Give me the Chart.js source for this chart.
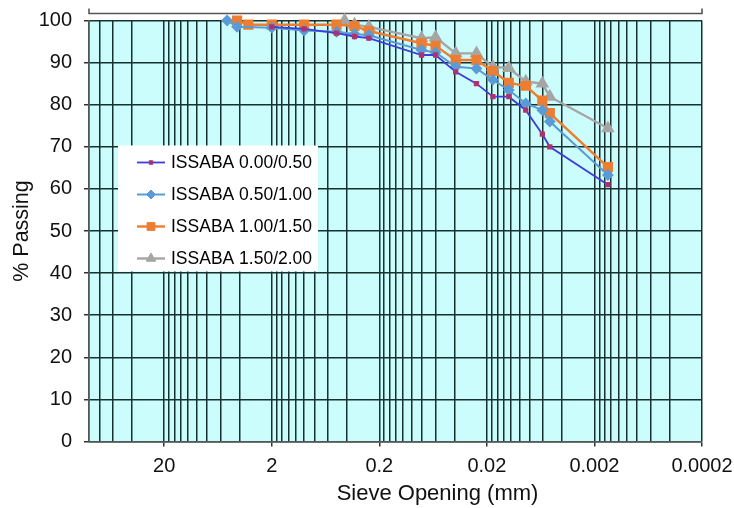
<!DOCTYPE html>
<html>
<head>
<meta charset="utf-8">
<script src="https://cdn.jsdelivr.net/npm/chart.js@4.4.0/dist/chart.umd.min.js"></script>
<style>
  html, body { margin: 0; padding: 0; background: #fff; }
</style>
</head>
<body>
<canvas id="chart" width="734" height="508"></canvas>
<script>
// sieve opening (mm) and % passing
const sizes00 = [2.0, 1.0, 0.5, 0.34, 0.25, 0.081, 0.06, 0.039, 0.025, 0.0176, 0.0125, 0.0087, 0.0061, 0.0052, 0.0015];
const pass00  = [98.5, 98, 97, 96.2, 95.8, 91.8, 91.8, 87.8, 85, 81.9, 81.9, 78.7, 73, 70, 61];

const sizes05 = [5.2, 4.2, 2.0, 1.0, 0.5, 0.34, 0.25, 0.081, 0.06, 0.039, 0.025, 0.0176, 0.0125, 0.0087, 0.0061, 0.0052, 0.0015];
const pass05  = [100, 98.5, 98.3, 97.6, 97.3, 96.8, 96.5, 93, 92.4, 89, 88.6, 85.9, 83.5, 80.3, 78.7, 76, 63.3];

const sizes10 = [4.2, 3.3, 2.0, 1.0, 0.5, 0.34, 0.25, 0.081, 0.06, 0.039, 0.025, 0.0176, 0.0125, 0.0087, 0.0061, 0.0052, 0.0015];
const pass10  = [100, 99, 99, 99, 99, 98.7, 97.5, 94.6, 94, 90.6, 90.6, 88, 85.2, 84.5, 81, 78, 65.2];

const sizes15 = [0.42, 0.34, 0.25, 0.081, 0.06, 0.039, 0.025, 0.0176, 0.0125, 0.0087, 0.0061, 0.0052, 0.0015];
const pass15  = [100, 99, 98.5, 95.8, 96, 92.2, 92.2, 89, 88.7, 85.5, 85, 81.9, 74.4];

const seriesNames = ['ISSABA 0.00/0.50', 'ISSABA 0.50/1.00', 'ISSABA 1.00/1.50', 'ISSABA 1.50/2.00'];
const xTickLabels = ['20', '2', '0.2', '0.02', '0.002', '0.0002'];
const gridSteps = [2, 4, 6, 8, 10, 12, 14, 16, 18];

const FONT = '"Liberation Sans", Arial, sans-serif';

function pts(xs, ys) {
    return xs.map((x, i) => ({ x: x, y: ys[i] }));
}

function isLabelled(v) {
    return xTickLabels.find(l => Math.abs(Number(l) - v) / v < 1e-6);
}

// cyan plot background, bracket line above the plot, x title (sits right of centre in the original)
const framePlugin = {
    id: 'frame',
    beforeDraw(chart) {
        const a = chart.chartArea, ctx = chart.ctx;
        ctx.save();
        ctx.fillStyle = '#ccfdfd';
        ctx.fillRect(a.left, a.top, a.right - a.left, a.bottom - a.top);
        ctx.strokeStyle = '#555';
        ctx.lineWidth = 1.6;
        ctx.beginPath();
        ctx.moveTo(a.left, a.top - 12);
        ctx.lineTo(a.left, a.top - 7);
        ctx.lineTo(a.right, a.top - 7);
        ctx.lineTo(a.right, a.top - 12);
        ctx.stroke();
        ctx.fillStyle = '#111';
        ctx.font = '22px ' + FONT;
        ctx.textAlign = 'center';
        ctx.textBaseline = 'middle';
        ctx.fillText('Sieve Opening (mm)', (a.left + a.right) / 2 + 42, a.bottom + 52);
        ctx.restore();
    }
};

// legend box drawn inside the plot
const boxLegend = {
    id: 'boxLegend',
    afterDatasetsDraw(chart) {
        const a = chart.chartArea, ctx = chart.ctx;
        const left = a.left + 29, top = a.top + 125;
        ctx.save();
        ctx.fillStyle = '#fff';
        ctx.fillRect(left, top, 200, 126);
        chart.data.datasets.forEach((ds, i) => {
            const y = top + 17 + i * 32;
            ctx.strokeStyle = ds.borderColor;
            ctx.lineWidth = ds.borderWidth;
            ctx.beginPath();
            ctx.moveTo(left + 19, y);
            ctx.lineTo(left + 47, y);
            ctx.stroke();
            ctx.fillStyle = ds.pointBackgroundColor;
            ctx.strokeStyle = ds.pointBorderColor;
            ctx.lineWidth = 1;
            Chart.helpers.drawPoint(ctx, {
                pointStyle: ds.pointStyle, radius: ds.pointRadius, rotation: 0, borderWidth: 1
            }, left + 33, y);
            ctx.fillStyle = '#000';
            ctx.font = '17.5px ' + FONT;
            ctx.textBaseline = 'middle';
            ctx.fillText(ds.label, left + 53, y + 1);
        });
        ctx.restore();
    }
};

new Chart(document.getElementById('chart'), {
    type: 'scatter',
    data: {
        datasets: [
            {
                label: seriesNames[0], data: pts(sizes00, pass00), showLine: true, clip: false,
                borderColor: '#3d3ddc', borderWidth: 1.8,
                pointStyle: 'rect', pointRadius: 2.5,
                pointBackgroundColor: '#7b3f8e', pointBorderColor: '#b8306a'
            },
            {
                label: seriesNames[1], data: pts(sizes05, pass05), showLine: true, clip: false,
                borderColor: '#5b9bd5', borderWidth: 2,
                pointStyle: 'rectRot', pointRadius: 4.5,
                pointBackgroundColor: '#5b9bd5', pointBorderColor: '#5b9bd5'
            },
            {
                label: seriesNames[2], data: pts(sizes10, pass10), showLine: true, clip: false,
                borderColor: '#ed7d31', borderWidth: 2.4,
                pointStyle: 'rect', pointRadius: 5.5,
                pointBackgroundColor: '#ed7d31', pointBorderColor: '#ed7d31'
            },
            {
                label: seriesNames[3], data: pts(sizes15, pass15), showLine: true, clip: false,
                borderColor: '#a5a5a5', borderWidth: 2.4,
                pointStyle: 'triangle', pointRadius: 5.5,
                pointBackgroundColor: '#a5a5a5', pointBorderColor: '#a5a5a5'
            }
        ]
    },
    options: {
        responsive: false,
        animation: false,
        devicePixelRatio: 1,
        layout: { padding: { top: 20.5, right: 32, bottom: 0, left: 0 } },
        plugins: { legend: { display: false }, tooltip: { enabled: false } },
        scales: {
            x: {
                type: 'logarithmic',
                reverse: true,
                min: 0.0002,
                max: 100,
                afterBuildTicks(scale) {
                    const vals = [];
                    for (let e = -4; e <= 1; e++) {
                        gridSteps.forEach(s => {
                            const v = +(s * Math.pow(10, e)).toPrecision(6);
                            if (v <= 100) vals.push(v);
                        });
                    }
                    scale.ticks = vals.map(v => ({ value: v }));
                },
                afterFit(scale) { scale.height = 66.5; },
                ticks: {
                    autoSkip: false,
                    maxRotation: 0,
                    padding: 8,
                    color: '#111',
                    font: { family: FONT, size: 20 },
                    callback: v => isLabelled(v) || ''
                },
                grid: {
                    color: '#173030',
                    lineWidth: 1.5,
                    tickLength: 5,
                    tickColor: c => (c.tick && isLabelled(c.tick.value)) ? '#333' : 'rgba(0,0,0,0)'
                },
                border: { color: '#555', width: 1.5 }
            },
            y: {
                min: 0,
                max: 100,
                afterFit(scale) {
                    scale.width = 89;
                    scale.paddingTop = 10;
                    scale.paddingBottom = 10;
                },
                ticks: {
                    stepSize: 10,
                    padding: 12,
                    color: '#111',
                    font: { family: FONT, size: 20 }
                },
                grid: { color: '#173030', lineWidth: 1.5, tickLength: 5, tickColor: '#333' },
                border: { color: '#555', width: 1.5 },
                title: {
                    display: true,
                    text: '% Passing',
                    color: '#111',
                    font: { family: FONT, size: 21.5 },
                    padding: { top: 9, bottom: 0 }
                }
            }
        }
    },
    plugins: [framePlugin, boxLegend]
});
</script>
</body>
</html>
